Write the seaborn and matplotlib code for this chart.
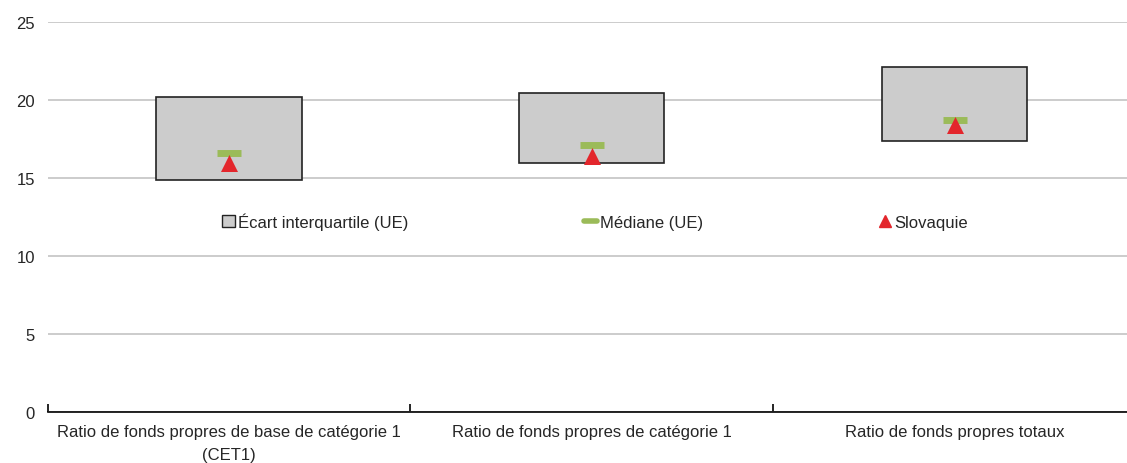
import matplotlib
matplotlib.use('Agg')
import matplotlib.pyplot as plt
import seaborn as sns
import pandas as pd
from matplotlib.patches import Patch
from matplotlib.lines import Line2D
from matplotlib.ticker import FixedLocator

# Données
categories = ["Ratio de fonds propres de base de catégorie 1\n(CET1)",
              "Ratio de fonds propres de catégorie 1",
              "Ratio de fonds propres totaux"]
q1 = [14.9, 16.0, 17.4]
q3 = [20.2, 20.45, 22.1]
mediane = [16.6, 17.1, 18.7]
slovaquie = [16.0, 16.4, 18.4]

sns.set_style("white")
plt.rcParams['font.family'] = ['Liberation Sans', 'DejaVu Sans']
plt.rcParams['font.size'] = 12

df = pd.DataFrame({'cat': categories, 'q1': q1, 'q3': q3,
                   'iqr': [b - a for a, b in zip(q1, q3)],
                   'med': mediane, 'sk': slovaquie})

fig = plt.figure(figsize=(11.27, 4.64), dpi=100)
ax = fig.add_axes([0.0422, 0.11, 0.966, 0.84])

ax.set_axisbelow(True)
ax.yaxis.grid(True, color='#c8c8c8', linewidth=1.3)

sns.barplot(data=df, x='cat', y='iqr', bottom=df['q1'].to_numpy(), color='#cccccc',
            saturation=1, width=0.4, edgecolor='#222222', linewidth=1.2, ax=ax, zorder=2)
sns.scatterplot(data=df, x='cat', y='med', marker='_', s=280, color='#9bbb59',
                linewidth=5, ax=ax, zorder=3)
sns.scatterplot(data=df, x='cat', y='sk', marker='^', s=150, color='#e3262c',
                linewidth=0, ax=ax, zorder=4)

ax.set_ylim(0, 25)
ax.set_xlim(-0.5, 2.5)
ax.set_yticks([0, 5, 10, 15, 20, 25])
ax.set_xlabel('')
ax.set_ylabel('')
ax.tick_params(axis='y', length=0, pad=9)
ax.xaxis.set_minor_locator(FixedLocator([-0.5, 0.5, 1.5, 2.5]))
ax.tick_params(axis='x', which='major', length=0, pad=9, bottom=True)
ax.tick_params(axis='x', which='minor', direction='in', length=6, width=1.2,
               color='black', bottom=True)
for lab in ax.get_xticklabels():
    lab.set_linespacing(1.6)
for s in ['top', 'right', 'left']:
    ax.spines[s].set_visible(False)
ax.spines['bottom'].set_color('black')
ax.spines['bottom'].set_linewidth(1.2)

handles = [Patch(facecolor='#cccccc', edgecolor='#222222', linewidth=1),
           Line2D([], [], color='#9bbb59', linewidth=4),
           Line2D([], [], marker='^', linestyle='', color='#e3262c', markersize=8)]
labels = ['Écart interquartile (UE)', 'Médiane (UE)', 'Slovaquie']
ax.legend(handles, labels, ncol=3, loc='center', bbox_to_anchor=(0.503, 0.49),
          frameon=False, columnspacing=10.55, handlelength=0.75, handletextpad=0.2,
          fontsize=12)

fig.savefig('out.png', dpi=100)
